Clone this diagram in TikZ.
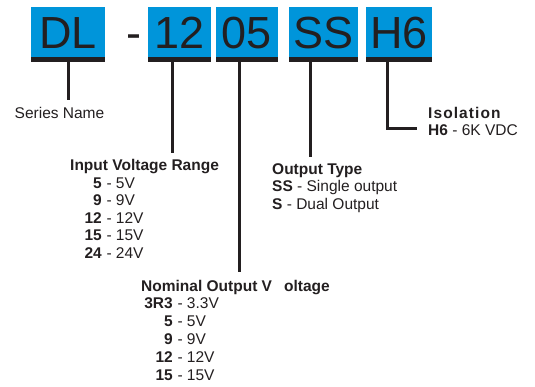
\documentclass[tikz,border=0pt]{standalone}
\usepackage{fontspec}
\setmainfont{Liberation Sans}
\definecolor{boxblue}{RGB}{0,149,218}
\definecolor{ink}{RGB}{35,31,32}
\tikzset{
  codebox/.style={fill=boxblue, inner sep=0pt, minimum height=50pt, text=ink,
    font=\fontsize{45}{45}\selectfont},
  bar/.style={fill=ink},
  lead/.style={draw=ink, line width=3pt},
  lbl/.style={inner sep=0pt, text=ink, font=\fontsize{15.5}{17.5}\selectfont},
  ttl/.style={lbl, font=\fontsize{15.5}{17.5}\selectfont\bfseries},
  num/.style={lbl, anchor=base east, font=\fontsize{15.5}{17.5}\selectfont\bfseries},
  val/.style={lbl, anchor=base west},
}
\newcommand\codeentry[5]{%
  \node[num] (#1) at (#2,#3) {#4};
  \node[val] (#1v) at (#1.base east) {\ -\ #5};}
\begin{document}
\begin{tikzpicture}[x=1pt,y=-1pt]
\useasboundingbox (0,0) rectangle (535,386);
% code boxes
\node[codebox, minimum width=74pt] (dl) at (68,32) {};
\node[codebox, minimum width=63pt] (c12) at (179.5,32) {};
\node[codebox, minimum width=62pt] (c05) at (247,32) {};
\node[codebox, minimum width=69pt] (css) at (323.5,32) {};
\node[codebox, minimum width=66pt] (ch6) at (399,32) {};
\foreach \b/\t in {dl/DL,c12/12,c05/05,css/SS,ch6/H6}{
  \node[lbl, anchor=base, font=\fontsize{45}{45}\selectfont] at (\b.center |- 0,48) {\t};
  \fill[bar] (\b.south west) rectangle ([yshift=-5pt]\b.south east);
}
\node[lbl, anchor=base, font=\fontsize{45}{45}\selectfont] (dash) at (133.5,48) {-};
% connector start points
\coordinate (pdl) at (68,62);
\coordinate (p12) at (172,62);
\coordinate (p05) at (239,62);
\coordinate (pss) at (310,62);
\coordinate (ph6) at (387,62);
\coordinate (edl) at (68,100);
\coordinate (e12) at (172,153);
\coordinate (e05) at (239,272);
\coordinate (ess) at (310,157);
\coordinate (kh6) at (387,128);
\coordinate (eh6) at (417,128);
\draw[lead] (pdl) -- (edl);
\draw[lead] (p12) -- (e12);
\draw[lead] (p05) -- (e05);
\draw[lead] (pss) -- (ess);
\draw[lead] (ph6) -- (kh6) -- (eh6);
% Series name
\node[lbl, anchor=base] (series) at (59.5,118) {Series Name};
% Input voltage range
\node[ttl, anchor=base west] (inttl) at (70,170.5) {Input Voltage Range};
\codeentry{in5}{102}{188}{5}{5V}
\codeentry{in9}{102}{205.5}{9}{9V}
\codeentry{in12}{102}{223}{12}{12V}
\codeentry{in15}{102}{240.5}{15}{15V}
\codeentry{in24}{102}{258}{24}{24V}
% Nominal output voltage
\node[ttl, anchor=base west] (outttl) at (141,291.5) {Nominal Output V\hspace{12pt}oltage};
\codeentry{o3}{173}{308}{3R3}{3.3V}
\codeentry{o5}{173}{326}{5}{5V}
\codeentry{o9}{173}{344}{9}{9V}
\codeentry{o12}{173}{362}{12}{12V}
\codeentry{o15}{173}{380}{15}{15V}
% Output type
\node[ttl, anchor=base west] (typttl) at (272,174) {Output Type};
\node[lbl, anchor=base west] (typss) at (272,191.7) {\textbf{SS} - Single output};
\node[lbl, anchor=base west] (typs) at (272,209.3) {\textbf{S} - Dual Output};
% Isolation
\node[ttl, anchor=base west, font=\fontsize{15.5}{17.5}\selectfont\bfseries\addfontfeature{LetterSpace=7}] (isottl) at (428,118.3) {Isolation};
\node[lbl, anchor=base west] (isoh6) at (428,135.7) {\textbf{H6} - 6K VDC};
\end{tikzpicture}
\end{document}
